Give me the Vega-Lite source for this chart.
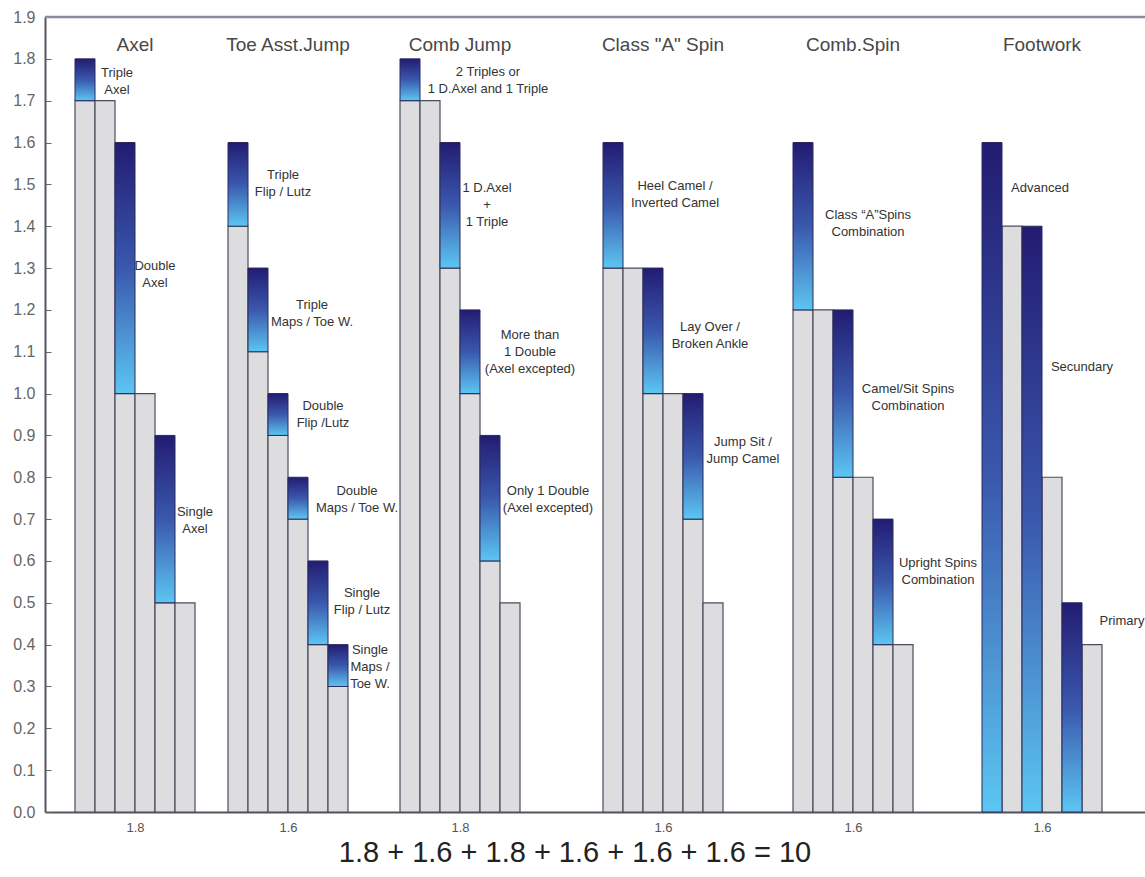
{
  "$schema": "https://vega.github.io/schema/vega-lite/v6.json",
  "width": 1100,
  "height": 795,
  "autosize": {"type": "none"},
  "padding": {"left": 45, "top": 17, "right": 0, "bottom": 65},
  "background": "white",
  "view": {"stroke": null},
  "config": {"font": "Liberation Sans"},
  "title": {
    "text": "1.8 + 1.6 + 1.8 + 1.6 + 1.6 + 1.6 = 10",
    "orient": "bottom",
    "anchor": "middle",
    "font": "Liberation Sans",
    "fontSize": 29,
    "fontWeight": "normal",
    "color": "#222222",
    "offset": 5,
    "dx": -20
  },
  "datasets": {
    "bars": [
      {"group": "Axel", "x0": 1.5, "x1": 2.5, "base": 1.7, "top": 1.8},
      {"group": "Axel", "x0": 2.5, "x1": 3.5, "base": 1.7, "top": 1.7},
      {"group": "Axel", "x0": 3.5, "x1": 4.5, "base": 1.0, "top": 1.6},
      {"group": "Axel", "x0": 4.5, "x1": 5.5, "base": 1.0, "top": 1.0},
      {"group": "Axel", "x0": 5.5, "x1": 6.5, "base": 0.5, "top": 0.9},
      {"group": "Axel", "x0": 6.5, "x1": 7.5, "base": 0.5, "top": 0.5},
      {"group": "Toe Asst.Jump", "x0": 9.15, "x1": 10.15, "base": 1.4, "top": 1.6},
      {"group": "Toe Asst.Jump", "x0": 10.15, "x1": 11.15, "base": 1.1, "top": 1.3},
      {"group": "Toe Asst.Jump", "x0": 11.15, "x1": 12.15, "base": 0.9, "top": 1.0},
      {"group": "Toe Asst.Jump", "x0": 12.15, "x1": 13.15, "base": 0.7, "top": 0.8},
      {"group": "Toe Asst.Jump", "x0": 13.15, "x1": 14.15, "base": 0.4, "top": 0.6},
      {"group": "Toe Asst.Jump", "x0": 14.15, "x1": 15.15, "base": 0.3, "top": 0.4},
      {"group": "Comb Jump", "x0": 17.75, "x1": 18.75, "base": 1.7, "top": 1.8},
      {"group": "Comb Jump", "x0": 18.75, "x1": 19.75, "base": 1.7, "top": 1.7},
      {"group": "Comb Jump", "x0": 19.75, "x1": 20.75, "base": 1.3, "top": 1.6},
      {"group": "Comb Jump", "x0": 20.75, "x1": 21.75, "base": 1.0, "top": 1.2},
      {"group": "Comb Jump", "x0": 21.75, "x1": 22.75, "base": 0.6, "top": 0.9},
      {"group": "Comb Jump", "x0": 22.75, "x1": 23.75, "base": 0.5, "top": 0.5},
      {"group": "Class \"A\" Spin", "x0": 27.9, "x1": 28.9, "base": 1.3, "top": 1.6},
      {"group": "Class \"A\" Spin", "x0": 28.9, "x1": 29.9, "base": 1.3, "top": 1.3},
      {"group": "Class \"A\" Spin", "x0": 29.9, "x1": 30.9, "base": 1.0, "top": 1.3},
      {"group": "Class \"A\" Spin", "x0": 30.9, "x1": 31.9, "base": 1.0, "top": 1.0},
      {"group": "Class \"A\" Spin", "x0": 31.9, "x1": 32.9, "base": 0.7, "top": 1.0},
      {"group": "Class \"A\" Spin", "x0": 32.9, "x1": 33.9, "base": 0.5, "top": 0.5},
      {"group": "Comb.Spin", "x0": 37.4, "x1": 38.4, "base": 1.2, "top": 1.6},
      {"group": "Comb.Spin", "x0": 38.4, "x1": 39.4, "base": 1.2, "top": 1.2},
      {"group": "Comb.Spin", "x0": 39.4, "x1": 40.4, "base": 0.8, "top": 1.2},
      {"group": "Comb.Spin", "x0": 40.4, "x1": 41.4, "base": 0.8, "top": 0.8},
      {"group": "Comb.Spin", "x0": 41.4, "x1": 42.4, "base": 0.4, "top": 0.7},
      {"group": "Comb.Spin", "x0": 42.4, "x1": 43.4, "base": 0.4, "top": 0.4},
      {"group": "Footwork", "x0": 46.85, "x1": 47.85, "base": 0.0, "top": 1.6},
      {"group": "Footwork", "x0": 47.85, "x1": 48.85, "base": 1.4, "top": 1.4},
      {"group": "Footwork", "x0": 48.85, "x1": 49.85, "base": 0.0, "top": 1.4},
      {"group": "Footwork", "x0": 49.85, "x1": 50.85, "base": 0.8, "top": 0.8},
      {"group": "Footwork", "x0": 50.85, "x1": 51.85, "base": 0.0, "top": 0.5},
      {"group": "Footwork", "x0": 51.85, "x1": 52.85, "base": 0.4, "top": 0.4}
    ],
    "groups": [
      {"group": "Axel", "center": 4.5, "total": 1.8},
      {"group": "Toe Asst.Jump", "center": 12.15, "total": 1.6},
      {"group": "Comb Jump", "center": 20.75, "total": 1.8},
      {"group": "Class \"A\" Spin", "center": 30.9, "total": 1.6},
      {"group": "Comb.Spin", "center": 40.4, "total": 1.6},
      {"group": "Footwork", "center": 49.85, "total": 1.6}
    ],
    "notes": [
      {"label": "Triple\nAxel", "x": 3.6, "y": 1.766},
      {"label": "Double\nAxel", "x": 5.5, "y": 1.305},
      {"label": "Single\nAxel", "x": 7.5, "y": 0.716},
      {"label": "Triple\nFlip / Lutz", "x": 11.9, "y": 1.523},
      {"label": "Triple\nMaps / Toe W.", "x": 13.35, "y": 1.211},
      {"label": "Double\nFlip /Lutz", "x": 13.9, "y": 0.97},
      {"label": "Double\nMaps / Toe W.", "x": 15.6, "y": 0.766},
      {"label": "Single\nFlip / Lutz", "x": 15.85, "y": 0.523},
      {"label": "Single\nMaps /\nToe W.", "x": 16.25, "y": 0.388},
      {"label": "2 Triples or\n1 D.Axel and 1 Triple", "x": 22.15, "y": 1.768},
      {"label": "1 D.Axel\n+\n1 Triple", "x": 22.1, "y": 1.492},
      {"label": "More than\n1 Double\n(Axel excepted)", "x": 24.25, "y": 1.141},
      {"label": "Only 1 Double\n(Axel excepted)", "x": 25.15, "y": 0.766},
      {"label": "Heel Camel /\nInverted Camel", "x": 31.5, "y": 1.497},
      {"label": "Lay Over /\nBroken Ankle", "x": 33.25, "y": 1.159},
      {"label": "Jump Sit /\nJump Camel", "x": 34.9, "y": 0.884},
      {"label": "Class “A”Spins\nCombination", "x": 41.15, "y": 1.427},
      {"label": "Camel/Sit Spins\nCombination", "x": 43.15, "y": 1.011},
      {"label": "Upright Spins\nCombination", "x": 44.65, "y": 0.595},
      {"label": "Advanced", "x": 49.75, "y": 1.491},
      {"label": "Secundary", "x": 51.85, "y": 1.064},
      {"label": "Primary", "x": 53.85, "y": 0.456}
    ]
  },
  "layer": [
    {
      "data": {"name": "bars"},
      "transform": [{"filter": "datum.base > 0"}],
      "mark": {"type": "bar", "orient": "vertical", "fill": "#dddde0", "stroke": "#4c4c5e", "strokeWidth": 1.2},
      "encoding": {
        "x": {
          "field": "x0", "type": "quantitative",
          "scale": {"domain": [0, 55], "nice": false, "zero": false, "padding": 0},
          "axis": {
            "title": null,
            "values": [4.5, 12.15, 20.75, 30.9, 40.4, 49.85],
            "labelExpr": "datum.value == 4.5 || datum.value == 20.75 ? '1.8' : '1.6'",
            "ticks": false,
            "grid": false,
            "domainColor": "#555560",
            "domainWidth": 2,
            "labelFontSize": 13,
            "labelColor": "#555555",
            "labelPadding": 9,
            "labelFont": "Liberation Sans"
          }
        },
        "x2": {"field": "x1"},
        "y": {
          "field": "base", "type": "quantitative",
          "scale": {"domain": [0, 1.9], "nice": false, "padding": 0},
          "axis": {
            "title": null,
            "values": [0, 0.1, 0.2, 0.3, 0.4, 0.5, 0.6, 0.7, 0.8, 0.9, 1.0, 1.1, 1.2, 1.3, 1.4, 1.5, 1.6, 1.7, 1.8, 1.9],
            "format": ".1f",
            "grid": false,
            "tickSize": -6,
            "tickColor": "#666670",
            "tickWidth": 1,
            "domainColor": "#555560",
            "domainWidth": 2,
            "labelFontSize": 16,
            "labelColor": "#666666",
            "labelPadding": 16,
            "labelFont": "Liberation Sans"
          }
        }
      }
    },
    {
      "data": {"name": "bars"},
      "transform": [{"filter": "datum.top > datum.base"}],
      "mark": {
        "type": "bar",
        "fill": {
          "gradient": "linear", "x1": 0, "y1": 0, "x2": 0, "y2": 1,
          "stops": [
            {"offset": 0, "color": "#221c72"},
            {"offset": 0.5, "color": "#3a58ad"},
            {"offset": 1, "color": "#5cc6f2"}
          ]
        },
        "stroke": "#2a2a5a",
        "strokeWidth": 1
      },
      "encoding": {
        "x": {"field": "x0", "type": "quantitative"},
        "x2": {"field": "x1"},
        "y": {"field": "top", "type": "quantitative"},
        "y2": {"field": "base"}
      }
    },
    {
      "data": {"name": "notes"},
      "mark": {"type": "text", "align": "center", "baseline": "middle", "fontSize": 13, "lineHeight": 17, "lineBreak": "\n", "color": "#333333", "font": "Liberation Sans"},
      "encoding": {
        "x": {"field": "x", "type": "quantitative"},
        "y": {"field": "y", "type": "quantitative"},
        "text": {"field": "label"}
      }
    },
    {
      "data": {"name": "groups"},
      "mark": {"type": "text", "align": "center", "baseline": "middle", "fontSize": 19, "color": "#484848", "font": "Liberation Sans"},
      "encoding": {
        "x": {"field": "center", "type": "quantitative"},
        "y": {"datum": 1.833, "type": "quantitative"},
        "text": {"field": "group"}
      }
    },
    {
      "data": {"values": [{"edge": 1.9}]},
      "mark": {"type": "rule", "stroke": "#8a8a9c", "strokeWidth": 2.5},
      "encoding": {
        "y": {"field": "edge", "type": "quantitative"}
      }
    }
  ]
}
